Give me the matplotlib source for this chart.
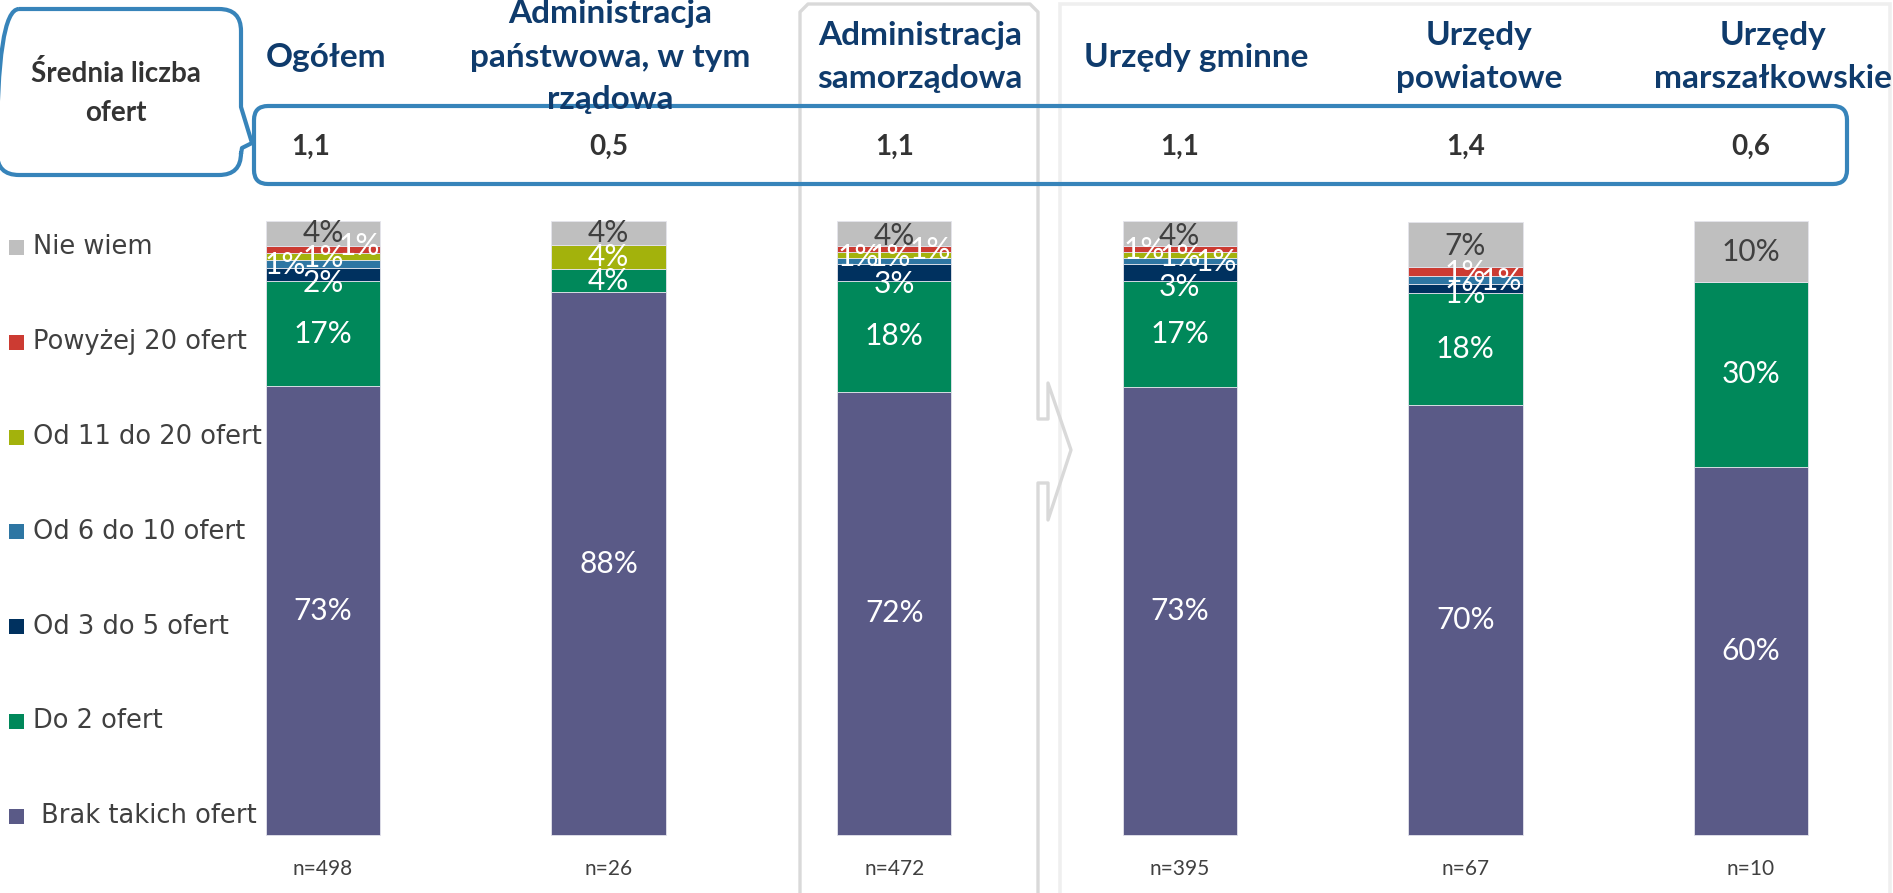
import matplotlib
matplotlib.use("Agg")
import matplotlib.pyplot as plt
from matplotlib.patches import FancyBboxPatch, PathPatch, Rectangle
from matplotlib.path import Path

# ---------------- data ----------------
groups = ["Ogółem", "Administracja\npaństwowa, w tym\nrządowa", "Administracja\nsamorządowa",
          "Urzędy gminne", "Urzędy\npowiatowe", "Urzędy\nmarszałkowskie"]
sample_sizes = ["n=498", "n=26", "n=472", "n=395", "n=67", "n=10"]
avg_offers = ["1,1", "0,5", "1,1", "1,1", "1,4", "0,6"]
avg_title = "Średnia liczba\nofert"

categories = ["Brak takich ofert", "Do 2 ofert", "Od 3 do 5 ofert", "Od 6 do 10 ofert",
              "Od 11 do 20 ofert", "Powyżej 20 ofert", "Nie wiem"]
brak = [73.1, 88.4, 72.2, 73.0, 70.1, 60.0]
do_2 = [17.1, 3.8, 18.0, 17.2, 18.2, 30.0]
od_3_5 = [2.2, 0.0, 2.8, 2.8, 1.4, 0.0]
od_6_10 = [1.2, 0.0, 1.0, 1.0, 1.4, 0.0]
od_11_20 = [1.2, 3.9, 1.0, 1.0, 0.0, 0.0]
powyzej_20 = [1.2, 0.0, 1.0, 1.0, 1.4, 0.0]
nie_wiem = [4.0, 3.9, 4.0, 4.0, 7.4, 10.0]
series = [brak, do_2, od_3_5, od_6_10, od_11_20, powyzej_20, nie_wiem]

colors = ["#5A5A87", "#00885A", "#00315F", "#2E76A3", "#A3B20C", "#CC3B32", "#BFBFBF"]

# ---------------- layout ----------------
W, H = 1893, 893
fig = plt.figure(figsize=(W / 100, H / 100), dpi=100)

X0, PITCH = 323.0, 285.6          # first bar centre / spacing (px)
Y_BASE, Y_TOP = 835.0, 221.0      # 0% / 100% (px)
ppu = (Y_BASE - Y_TOP) / 100.0

ax = fig.add_axes([0, 0, 1, 1])
ax.set_xlim(-X0 / PITCH, (W - X0) / PITCH)
ax.set_ylim(-(H - Y_BASE) / ppu, 100 + Y_TOP / ppu)
ax.axis("off")

deco = fig.add_axes([0, 0, 1, 1], zorder=3)
deco.set_xlim(0, W)
deco.set_ylim(H, 0)
deco.axis("off")
deco.patch.set_alpha(0)

LATO = ["Lato", "DejaVu Sans"]

# label nudges: (bar, segment) -> (dx px, dy %)
shift = {
    (0, 2): (0, -1.4), (0, 3): (-38, -0.2), (0, 4): (0, -0.3), (0, 5): (36, 0.45),
    (2, 2): (0, -1.85), (2, 3): (-36, 0.65), (2, 4): (-4, -0.3), (2, 5): (36, -0.3), (2, 6): (0, -0.4),
    (3, 2): (0, -2.4), (3, 3): (36, -0.2), (3, 4): (0, -0.4), (3, 5): (-36, -0.3), (3, 6): (0, -0.5),
    (4, 2): (0, -0.95), (4, 3): (36, -0.25), (4, 5): (0, -0.25), (4, 6): (0, -0.2),
}

xs = list(range(len(groups)))
bottoms = [0.0] * len(groups)
for si, (vals, col) in enumerate(zip(series, colors)):
    ax.bar(xs, vals, width=0.40, bottom=bottoms, color=col, edgecolor="#E4E4EC",
           linewidth=0.6, zorder=2)
    for bi, v in enumerate(vals):
        if v > 0:
            dx, dy = shift.get((bi, si), (0, 0))
            tc = "#404040" if si == 6 else "white"
            ax.text(bi + dx / PITCH, bottoms[bi] + v / 2 + dy, f"{v:.0f}%",
                    ha="center", va="center", color=tc, fontsize=21.5,
                    family=LATO, zorder=4)
    bottoms = [b + v for b, v in zip(bottoms, vals)]

for bi, n in enumerate(sample_sizes):
    ax.text(bi, -34 / ppu, n, ha="center", va="center", fontsize=15,
            color="#404040", family=LATO)

# ---------------- decorations (pixel coordinates) ----------------
pv = [(800, 900), (800, 12), (808, 4), (1030, 4), (1038, 12), (1038, 419), (1048, 419),
      (1048, 383), (1071, 450), (1048, 520), (1048, 483), (1038, 483), (1038, 900)]
deco.add_patch(PathPatch(Path(pv), fill=False, edgecolor="#D9D9D9", lw=2.4,
                         joinstyle="round", zorder=1))
pv2 = [(1060, 900), (1060, 4), (1890, 4), (1890, 900)]
deco.add_patch(PathPatch(Path(pv2), fill=False, edgecolor="#EFEFEF", lw=2.6, zorder=0.5))

BLUE = "#3784BA"
deco.add_patch(FancyBboxPatch((254, 106), 1593, 78, boxstyle="round,pad=0,rounding_size=14",
                              fill=False, edgecolor=BLUE, lw=3.0, zorder=5))

L, R, T, B, r = -3, 241, 9, 175, 22
verts = [(L + r, T), (R - r, T), (R, T), (R, T + r), (R, 107), (252, 143), (242, 148),
         (R, 154), (R, B - r), (R, B), (R - r, B), (L + r, B), (L, B), (L, B - r),
         (L, T + r), (L, T), (L + r, T)]
codes = [Path.MOVETO, Path.LINETO, Path.CURVE3, Path.CURVE3, Path.LINETO, Path.LINETO,
         Path.LINETO, Path.LINETO, Path.LINETO, Path.CURVE3, Path.CURVE3, Path.LINETO,
         Path.CURVE3, Path.CURVE3, Path.LINETO, Path.CURVE3, Path.CURVE3]
deco.add_patch(PathPatch(Path(verts, codes), fill=False, edgecolor=BLUE, lw=3.0,
                         joinstyle="round", zorder=5))

t_lines = avg_title.split("\n")
for i, line in enumerate(t_lines):
    deco.text(116, 93 + (i - (len(t_lines) - 1) / 2) * 40, line, ha="center", va="center",
              fontsize=20, fontweight="bold", color="#333333", family=LATO, zorder=6)

# headers
head_dx = [3, 2, 26, 16, 14, 22]
for bi, g in enumerate(groups):
    lines = g.split("\n")
    for i, line in enumerate(lines):
        deco.text(X0 + bi * PITCH + head_dx[bi], 57 + (i - (len(lines) - 1) / 2) * 43,
                  line, ha="center", va="center", fontsize=24, fontweight="bold",
                  color="#0F3B6C", family=LATO, zorder=6)

for bi, a in enumerate(avg_offers):
    deco.text(X0 + bi * PITCH - (12 if bi == 0 else 0), 147, a, ha="center", va="center",
              fontsize=20, fontweight="bold", color="#333333", family=LATO, zorder=6)

# legend
leg_y0, leg_dy = 247.5, 94.8
for k, (cat, col) in enumerate(zip(categories[::-1], colors[::-1])):
    y = leg_y0 + k * leg_dy
    deco.add_patch(Rectangle((8.5, y - 7.5), 15, 15, facecolor=col, edgecolor="none", zorder=6))
    label = (" " + cat) if cat.startswith("Brak") else cat
    deco.text(33, y, label, ha="left", va="center", fontsize=18.5, color="#404040",
              family="DejaVu Sans", zorder=6)

fig.savefig("out.png", dpi=100)
